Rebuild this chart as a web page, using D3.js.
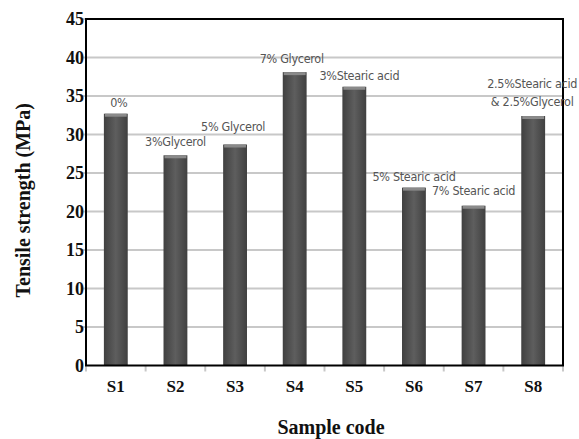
<!DOCTYPE html>
<html><head><meta charset="utf-8">
<script src="https://cdn.jsdelivr.net/npm/d3@7"></script>
<style>body{margin:0;background:#fff}svg{display:block}</style>
</head><body>
<svg id="c" width="579" height="439"></svg>
<script>
const categories = ["S1","S2","S3","S4","S5","S6","S7","S8"];
const values = [32.7, 27.3, 28.7, 38.1, 36.2, 23.1, 20.75, 32.4];
const annotations = [["0%"],["3%Glycerol"],["5%  Glycerol"],["7% Glycerol"],["3%Stearic acid"],["5%  Stearic acid"],["7%  Stearic acid"],["2.5%Stearic acid","& 2.5%Glycerol"]];
const annotDx = [3, 0, -2, -3, 5, 0, 0, -1];
const annotYv = [33.6, 28.5, 30.4, 39.3, 37.1, 24.0, 22.1, 36.0];
const yTicks = [0,5,10,15,20,25,30,35,40,45];

const svg = d3.select("#c");
const m = {l:86, r:563, t:19, b:365.5};
const x = d3.scaleBand().domain(categories).range([m.l, m.r]).paddingInner(0.6).paddingOuter(0.3);
const y = d3.scaleLinear().domain([0,45]).range([m.b, m.t]);

const defs = svg.append("defs");
const g = defs.append("linearGradient").attr("id","bg").attr("x1","0").attr("x2","1").attr("y1","0").attr("y2","0");
g.append("stop").attr("offset","0").attr("stop-color","#404040");
g.append("stop").attr("offset","0.5").attr("stop-color","#5e5e5e");
g.append("stop").attr("offset","1").attr("stop-color","#404040");

// gridlines
svg.append("g").selectAll("line").data(yTicks.filter(d=>d>0)).join("line")
  .attr("x1", m.l-4).attr("x2", m.r).attr("y1", d=>y(d)).attr("y2", d=>y(d))
  .attr("stroke","#c8c8c8").attr("stroke-width",2);

// x tick marks
const bounds = d3.range(categories.length+1).map(i => m.l + i*(m.r-m.l)/categories.length);
svg.append("g").selectAll("line").data(bounds).join("line")
  .attr("x1", d=>d).attr("x2", d=>d).attr("y1", m.b).attr("y2", m.b+6)
  .attr("stroke","#c8c8c8").attr("stroke-width",2);

// bars
const bars = svg.append("g").selectAll("g").data(categories).join("g");
bars.append("rect").attr("x", d=>x(d)).attr("width", x.bandwidth())
  .attr("y", (d,i)=>y(values[i])).attr("height", (d,i)=>y(0)-y(values[i]))
  .attr("fill","url(#bg)");
bars.append("rect").attr("x", d=>x(d)+1).attr("width", x.bandwidth()-2)
  .attr("y", (d,i)=>y(values[i])).attr("height", 3)
  .attr("fill","#8a8a8a");

// frame
svg.append("rect").attr("x", m.l).attr("y", m.t).attr("width", m.r-m.l).attr("height", m.b-m.t)
  .attr("fill","none").attr("stroke","#000").attr("stroke-width",2);

// y tick labels
svg.append("g").selectAll("text").data(yTicks).join("text")
  .attr("x", m.l-2).attr("y", d=>y(d)+6).attr("text-anchor","end")
  .attr("font-family","Liberation Serif, Times New Roman, serif").attr("font-weight","bold")
  .attr("font-size","18px").attr("fill","#111").text(d=>d);

// x tick labels
svg.append("g").selectAll("text").data(categories).join("text")
  .attr("x", d=>x(d)+x.bandwidth()/2).attr("y", 392).attr("text-anchor","middle")
  .attr("font-family","Liberation Serif, Times New Roman, serif").attr("font-weight","bold")
  .attr("font-size","17px").attr("fill","#111").text(d=>d);

// annotations
const ann = svg.append("g");
categories.forEach((c,i)=>{
  const cx = x(c)+x.bandwidth()/2 + annotDx[i];
  const t = ann.append("text").attr("x", cx).attr("y", y(annotYv[i]))
    .attr("text-anchor","middle").attr("font-family","'DejaVu Sans Condensed', 'Liberation Sans Narrow', sans-serif")
    .attr("font-size","12.5px").attr("fill","#555").attr("letter-spacing","-0.3");
  annotations[i].forEach((s,j)=>{
    t.append("tspan").attr("x", cx).attr("dy", j===0?0:18).text(s);
  });
});

// axis titles
svg.append("text").attr("transform","translate(30,"+((m.t+m.b)/2+8)+") rotate(-90)")
  .attr("text-anchor","middle").attr("font-family","Liberation Serif, Times New Roman, serif")
  .attr("font-weight","bold").attr("font-size","20px").attr("fill","#111").text("Tensile strength (MPa)");
svg.append("text").attr("x", 331).attr("y", 434).attr("text-anchor","middle")
  .attr("font-family","Liberation Serif, Times New Roman, serif")
  .attr("font-weight","bold").attr("font-size","20px").attr("fill","#111").text("Sample code");
</script>
</body></html>
